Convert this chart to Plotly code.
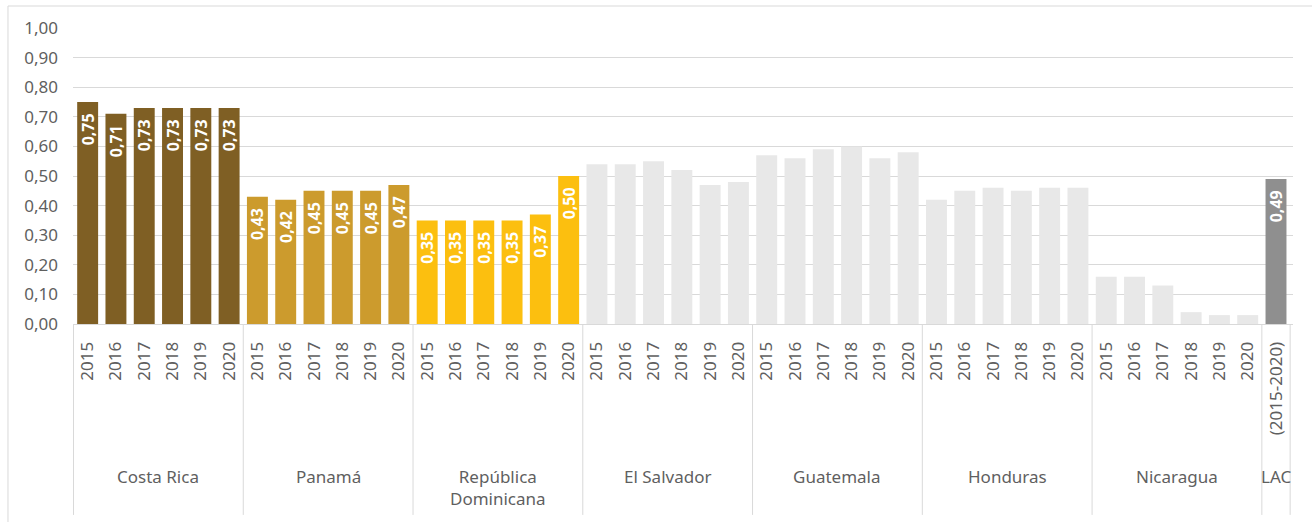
import plotly.graph_objects as go

# Countries and years on the x axis
countries = ["Costa Rica", "Panamá", "República Dominicana", "El Salvador",
             "Guatemala", "Honduras", "Nicaragua"]
country_labels = ["Costa Rica", "Panamá", "República<br>Dominicana", "El Salvador",
                  "Guatemala", "Honduras", "Nicaragua"]
years = ["2015", "2016", "2017", "2018", "2019", "2020"]

# Index values per country, 2015-2020
costa_rica = [0.75, 0.71, 0.73, 0.73, 0.73, 0.73]
panama = [0.43, 0.42, 0.45, 0.45, 0.45, 0.47]
rep_dominicana = [0.35, 0.35, 0.35, 0.35, 0.37, 0.50]
el_salvador = [0.54, 0.54, 0.55, 0.52, 0.47, 0.48]
guatemala = [0.57, 0.56, 0.59, 0.60, 0.56, 0.58]
honduras = [0.42, 0.45, 0.46, 0.45, 0.46, 0.46]
nicaragua = [0.16, 0.16, 0.13, 0.04, 0.03, 0.03]

# Regional average
lac_label = "LAC"
lac_period = "(2015-2020)"
lac_value = [0.49]

series = [costa_rica, panama, rep_dominicana, el_salvador, guatemala, honduras, nicaragua]
colors = ["#7f5f24", "#cc9b2d", "#fcbf0f", "#e8e8e8", "#e8e8e8", "#e8e8e8", "#e8e8e8"]
labelled = [True, True, True, False, False, False, False]

FONT = "Noto Sans"
TICK_COLOR = "#5f5f5f"
GRID = "#d9d9d9"
# value label, with a little room kept above it inside the bar
LABEL_TEMPLATE = "%{y:.2f}\u00a0\u00a0"
LABEL_FONT = dict(family=FONT, size=16, color="white", weight="bold")

fig = go.Figure()

all_keys, all_ticks = [], []
for name, vals, col, lab in zip(countries, series, colors, labelled):
    keys = [f"{name} {y}" for y in years]
    all_keys += keys
    all_ticks += years
    fig.add_trace(go.Bar(
        x=keys, y=vals, marker=dict(color=col, line=dict(width=0)),
        texttemplate=LABEL_TEMPLATE if lab else None,
        textposition="inside" if lab else "none",
        insidetextanchor="end", textangle=-90, constraintext="none",
        textfont=LABEL_FONT,
        hoverinfo="x+y", showlegend=False,
    ))

lac_key = [f"{lac_label} {lac_period}"]
all_keys += lac_key
all_ticks += [lac_period]
fig.add_trace(go.Bar(
    x=lac_key, y=lac_value, marker=dict(color="#8f8f8f", line=dict(width=0)),
    texttemplate=LABEL_TEMPLATE, textposition="inside", insidetextanchor="end",
    textangle=-90, constraintext="none", textfont=LABEL_FONT,
    showlegend=False,
))

# Group dividers below the axis
n = len(years)
shapes = []
bounds = [-0.5 + i * n for i in range(len(countries) + 1)] + [len(all_keys) - 0.5]
for b in bounds:
    shapes.append(dict(type="line", xref="x", yref="paper", x0=b, x1=b,
                       y0=0, y1=-0.645, line=dict(color=GRID, width=1)))

# Outer frame
shapes.append(dict(type="rect", xref="paper", yref="paper",
                   x0=-0.0533, x1=1.08, y0=-0.9, y1=1.0743,
                   line=dict(color=GRID, width=1), layer="below"))

# Group names under the year labels
annotations = []
for i, lab in enumerate(country_labels):
    annotations.append(dict(text=lab, xref="x", yref="paper", x=i * n + (n - 1) / 2,
                            y=-0.468, yanchor="top", xanchor="center", showarrow=False,
                            font=dict(family=FONT, size=17, color=TICK_COLOR)))
annotations.append(dict(text=lac_label, xref="x", yref="paper", x=len(all_keys) - 1,
                        y=-0.468, yanchor="top", xanchor="center", showarrow=False,
                        font=dict(family=FONT, size=17, color=TICK_COLOR)))

fig.update_layout(
    width=1312, height=522,
    margin=dict(l=73, r=19, t=28, b=198),
    paper_bgcolor="white", plot_bgcolor="white",
    separators=",.",
    barmode="overlay", bargap=0.26,
    shapes=shapes, annotations=annotations,
    font=dict(family=FONT, size=17, color=TICK_COLOR),
)
fig.update_xaxes(
    type="category", categoryorder="array", categoryarray=all_keys,
    tickvals=all_keys, ticktext=all_ticks, tickangle=-90,
    showline=True, linecolor=GRID, linewidth=1, showgrid=False,
    ticks="", ticklabelstandoff=10,
    tickfont=dict(family=FONT, size=17, color=TICK_COLOR),
)
fig.update_yaxes(
    range=[0, 1.0], dtick=0.1, tickformat=".2f",
    showgrid=True, gridcolor=GRID, gridwidth=1, zeroline=False, showline=False,
    ticks="", ticklabelstandoff=14,
    tickfont=dict(family=FONT, size=17, color=TICK_COLOR),
)

fig.write_html("out.html")
